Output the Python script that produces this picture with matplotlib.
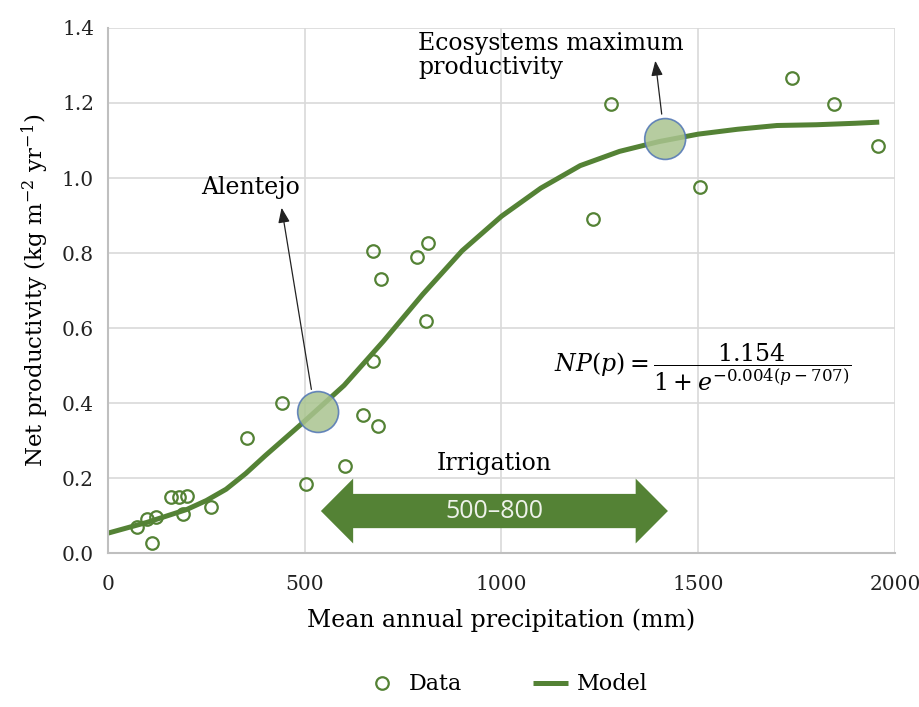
import numpy as np
import matplotlib.pyplot as plt
from matplotlib.patches import FancyArrow, Ellipse

# === Data ===
precip = [74, 99, 122, 112, 160, 180, 201, 191, 262, 353, 442, 503, 602, 648,
          674, 687, 673, 694, 785, 813, 808, 1233, 1278, 1504, 1738, 1845, 1957]
prod = [0.069, 0.090, 0.096, 0.027, 0.149, 0.150, 0.153, 0.105, 0.122, 0.307,
        0.400, 0.184, 0.232, 0.368, 0.513, 0.339, 0.805, 0.731, 0.789, 0.826,
        0.619, 0.891, 1.198, 0.976, 1.267, 1.196, 1.085]

model_x = [0, 100, 200, 250, 300, 350, 400, 500, 600, 700, 800, 900, 1000,
           1100, 1200, 1300, 1400, 1500, 1600, 1700, 1800, 1900, 1960]
model_y = [0.053, 0.082, 0.116, 0.140, 0.170, 0.212, 0.260, 0.352, 0.447,
           0.565, 0.690, 0.806, 0.898, 0.973, 1.033, 1.071, 1.097, 1.117,
           1.130, 1.140, 1.142, 1.146, 1.149]

highlight_x = [534, 1416]
highlight_y = [0.376, 1.104]

irrig_from, irrig_to = 541, 1423

green = '#548235'
serif = 'DejaVu Serif'
plt.rcParams['font.family'] = serif
plt.rcParams['mathtext.fontset'] = 'dejavuserif'

fig = plt.figure(figsize=(9.2, 7.07), dpi=100)
ax = fig.add_axes([0.1174, 0.2178, 0.8554, 0.7426])

ax.plot(precip, prod, 'o', mfc='none', mec=green, mew=1.6, ms=9, label='Data', zorder=3)
ax.plot(model_x, model_y, '-', color=green, lw=3.6, label='Model', zorder=2,
        solid_capstyle='butt')

# highlighted points (ellipses in data units so they look round)
for hx, hy in zip(highlight_x, highlight_y):
    ax.add_patch(Ellipse((hx, hy), 104, 0.109, facecolor='#a9c48f',
                         edgecolor='#4f74b5', lw=1.2, alpha=0.85, zorder=4))

ax.set_xlim(0, 2000)
ax.set_ylim(0, 1.4)
ax.set_xticks(np.arange(0, 2001, 500))
ax.set_yticks(np.arange(0, 1.41, 0.2))
ax.set_yticklabels([f'{v:.1f}' for v in np.arange(0, 1.41, 0.2)])
ax.tick_params(length=0, labelsize=14.5, colors='#222222')
ax.tick_params(axis='x', pad=16)
ax.tick_params(axis='y', pad=10)
ax.grid(True, color='#d9d9d9', lw=1.2)
ax.set_axisbelow(True)
for s in ['top', 'right']:
    ax.spines[s].set_visible(False)
for s in ['left', 'bottom']:
    ax.spines[s].set_color('#bfbfbf')
    ax.spines[s].set_linewidth(1.5)

ax.set_xlabel('Mean annual precipitation (mm)', fontsize=17, labelpad=10)
ax.set_ylabel(r'Net productivity (kg m$^{\mathregular{-2}}$ yr$^{\mathregular{-1}}$)',
              fontsize=16.5, labelpad=8)

# annotations
ax.annotate('', xy=(440, 0.928), xytext=(518, 0.429),
            arrowprops=dict(arrowstyle='-|>,head_length=0.9,head_width=0.35',
                            color='#222222', lw=0.9))
ax.text(363, 0.976, 'Alentejo', fontsize=17, ha='center', va='center')

ax.annotate('', xy=(1390, 1.32), xytext=(1408, 1.163),
            arrowprops=dict(arrowstyle='-|>,head_length=0.9,head_width=0.35',
                            color='#222222', lw=0.9))
ax.text(788, 1.39, 'Ecosystems maximum\nproductivity', fontsize=17,
        ha='left', va='top', linespacing=1.05)

ax.text(1510, 0.496, r'$NP(p) = \dfrac{1.154}{1+e^{-0.004(p-707)}}$',
        fontsize=17, ha='center', va='center')

# irrigation double arrow
head = 82
ax.add_patch(FancyArrow(irrig_from + head, 0.112, (irrig_to - irrig_from) - head, 0,
                        width=0.091, head_width=0.173, head_length=head,
                        length_includes_head=True, color=green, lw=0, zorder=3))
ax.add_patch(FancyArrow(irrig_to - head, 0.112, -((irrig_to - irrig_from) - head), 0,
                        width=0.091, head_width=0.173, head_length=head,
                        length_includes_head=True, color=green, lw=0, zorder=3))
ax.text((irrig_from + irrig_to) / 2, 0.112, '500\u2013800', color='#eef2ea',
        fontsize=18, ha='center', va='center', family='Open Sans', zorder=4)
ax.text((irrig_from + irrig_to) / 2, 0.24, 'Irrigation', fontsize=17,
        ha='center', va='center')

fig.legend(loc='lower center', bbox_to_anchor=(0.55, -0.012), ncol=2,
           frameon=False, fontsize=16, columnspacing=3.2, handlelength=1.6,
           handletextpad=0.4)

fig.savefig('out.png', dpi=100)
